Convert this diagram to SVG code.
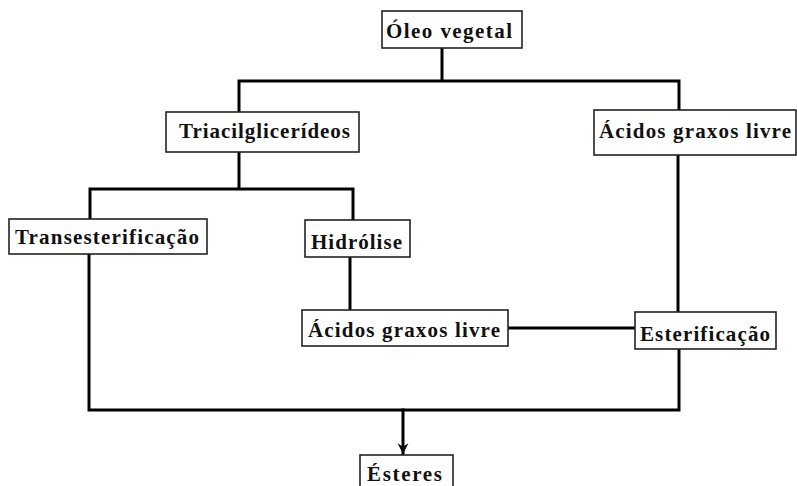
<svg xmlns="http://www.w3.org/2000/svg" width="797" height="486" viewBox="0 0 797 486">
<style>
.box{fill:#fff;stroke:#222;stroke-width:1.6}
.lbl{font-family:"Liberation Serif","DejaVu Serif",serif;font-weight:bold;font-size:21px;fill:#111}
.con{fill:none;stroke:#000;stroke-width:3;stroke-linejoin:miter;stroke-linecap:square}
</style>
<defs>
<marker id="arr" viewBox="0 0 10 10" refX="9" refY="5" markerWidth="12" markerHeight="12" markerUnits="userSpaceOnUse" orient="auto">
<path d="M0,0.5 L9,5 L0,9.5 L3,5 Z" fill="#000"/>
</marker>
</defs>
<rect width="797" height="486" fill="#fff"/>
<g id="connectors">
<path class="con" d="M442,48 V81 M239,81 H679 M239,81 V112 M679,81 V110"/>
<path class="con" d="M239,152 V189 M90,189 H353 M90,189 V219 M353,189 V220"/>
<path class="con" d="M350,257 V310"/>
<path class="con" d="M508,328 H635"/>
<path class="con" d="M678,155 V312"/>
<path class="con" d="M89,254 V410 H679 V349"/>
<path class="con" d="M403,410 V454" marker-end="url(#arr)"/>
</g>
<g id="oleo">
<rect class="box" x="382" y="11" width="140" height="37"/>
<text class="lbl" x="386" y="38" textLength="126" lengthAdjust="spacing">Óleo vegetal</text>
</g>
<g id="triacil">
<rect class="box" x="166" y="112" width="193" height="40"/>
<text class="lbl" x="179" y="138" textLength="171" lengthAdjust="spacing">Triacilglicerídeos</text>
</g>
<g id="acidos1">
<rect class="box" x="594" y="110" width="202" height="45"/>
<text class="lbl" x="599" y="138" textLength="192" lengthAdjust="spacing">Ácidos graxos livre</text>
</g>
<g id="transes">
<rect class="box" x="9" y="219" width="198" height="35"/>
<text class="lbl" x="15" y="244" textLength="184" lengthAdjust="spacing">Transesterificação</text>
</g>
<g id="hidrolise">
<rect class="box" x="305" y="220" width="105" height="37"/>
<text class="lbl" x="311" y="249" textLength="91" lengthAdjust="spacing">Hidrólise</text>
</g>
<g id="acidos2">
<rect class="box" x="302" y="310" width="206" height="36"/>
<text class="lbl" x="308" y="337" textLength="192" lengthAdjust="spacing">Ácidos graxos livre</text>
</g>
<g id="esterif">
<rect class="box" x="635" y="312" width="141" height="37"/>
<text class="lbl" x="640" y="341" textLength="130" lengthAdjust="spacing">Esterificação</text>
</g>
<g id="esteres">
<rect class="box" x="360" y="455" width="93" height="40"/>
<text class="lbl" x="367" y="481" textLength="75" lengthAdjust="spacing">Ésteres</text>
</g>
</svg>
